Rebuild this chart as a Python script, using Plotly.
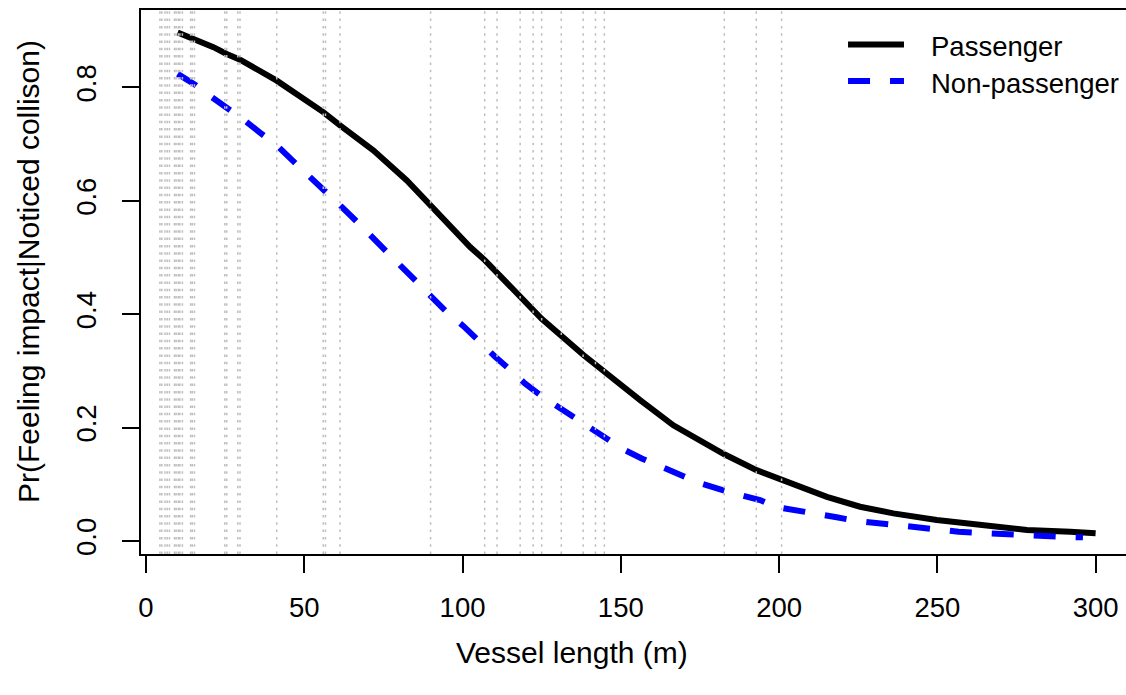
import plotly.graph_objects as go

# ---- data ----
passenger_x = [10, 15, 21.3, 25.5, 29.7, 41.3, 50.8, 56.0, 61.3, 71.8, 82.4, 89.9, 92.9,
               102.4, 107.1, 118.2, 125.0, 138.2, 144.8, 156.1, 166.6, 182.7, 192.9,
               200.8, 215.1, 225.6, 236.1, 249.8, 262.5, 278.3, 292.0, 300.0]
passenger_y = [0.897, 0.886, 0.871, 0.859, 0.849, 0.812, 0.777, 0.7565, 0.733, 0.689,
               0.636, 0.592, 0.5775, 0.5186, 0.495, 0.4305, 0.392, 0.328, 0.298, 0.2485,
               0.204, 0.153, 0.125, 0.1075, 0.078, 0.0605, 0.0488, 0.037, 0.028, 0.0194,
               0.0164, 0.0136]

nonpass_x = [10, 15.5, 20.5, 26.3, 30.7, 36.2, 41.3, 46.0, 50.8, 56.0, 61.3, 66.4, 71.1,
             76.0, 80.3, 85.0, 89.7, 95.5, 100.3, 105.5, 110.3, 115.2, 119.7, 125.0,
             130.0, 135.2, 140.3, 145.6, 150.8, 156.6, 162.4, 169.3, 175.0, 184.5,
             194.0, 198.7, 205.6, 211.4, 218.2, 224.0, 230.3, 236.6, 243.5, 249.8,
             256.7, 263.0, 269.8, 276.1, 283.0, 288.8, 296.0]
nonpass_y = [0.824, 0.805, 0.784, 0.762, 0.7436, 0.7195, 0.698, 0.6726, 0.648, 0.6226,
             0.592, 0.5644, 0.539, 0.5115, 0.4863, 0.46, 0.4335, 0.401, 0.379, 0.350,
             0.325, 0.301, 0.278, 0.2555, 0.2367, 0.218, 0.1986, 0.181, 0.1616, 0.1457,
             0.131, 0.1145, 0.102, 0.086, 0.0722, 0.0605, 0.0546, 0.0488, 0.0418,
             0.0358, 0.0323, 0.0264, 0.0224, 0.0194, 0.0164, 0.0146, 0.0123, 0.0106,
             0.0093, 0.0076, 0.0065]

observed_lengths = [4.4, 5.0, 6.0, 6.7, 7.4, 9.0, 9.5, 10.2, 10.7, 11.5, 14.1, 14.6, 15.3,
                    24.9, 25.5, 29.0, 29.7, 41.3, 56.0, 56.7, 61.3, 89.9, 107.0, 110.9,
                    118.2, 122.3, 125.0, 131.2, 138.1, 142.0, 144.8, 182.7, 192.8, 200.8]

x_ticks = [0, 50, 100, 150, 200, 250, 300]
y_ticks = [0.0, 0.2, 0.4, 0.6, 0.8]
y_tick_text = ["0.0", "0.2", "0.4", "0.6", "0.8"]

series_names = ["Passenger", "Non-passenger"]
x_title = "Vessel length (m)"
y_title = "Pr(Feeling impact|Noticed collison)"

FONT = "Liberation Sans, Arial, Helvetica, sans-serif"
FS = 27.5
FS_TITLE = 30

fig = go.Figure()
fig.add_trace(go.Scatter(x=passenger_x, y=passenger_y, mode="lines", name=series_names[0],
                         line=dict(color="black", width=6), showlegend=False))
fig.add_trace(go.Scatter(x=nonpass_x, y=nonpass_y, mode="lines", name=series_names[1],
                         line=dict(color="#0000FF", width=6, dash="22px,20px"),
                         showlegend=False))

for v in observed_lengths:
    fig.add_vline(x=v, line=dict(color="#BEBEBE", width=1.5, dash="2.5px,4.8px"),
                  layer="above")

# manual legend (R style, no box)
fig.add_shape(type="line", xref="paper", yref="paper", x0=0.7178, x1=0.7746,
              y0=0.9366, y1=0.9366, line=dict(color="black", width=6))
fig.add_shape(type="line", xref="paper", yref="paper", x0=0.7178, x1=0.7746,
              y0=0.8695, y1=0.8695, line=dict(color="#0000FF", width=6, dash="22px,20px"))
fig.add_annotation(xref="paper", yref="paper", x=0.80, y=0.932, text=series_names[0],
                   showarrow=False, xanchor="left", yanchor="middle",
                   font=dict(family=FONT, size=FS, color="black"))
fig.add_annotation(xref="paper", yref="paper", x=0.80, y=0.864, text=series_names[1],
                   showarrow=False, xanchor="left", yanchor="middle",
                   font=dict(family=FONT, size=FS, color="black"))

# axis titles
fig.add_annotation(xref="paper", yref="paper", x=(572 - 141) / 985, y=(554 - 652) / 544,
                   text=x_title, showarrow=False, xanchor="center", yanchor="middle",
                   font=dict(family=FONT, size=FS_TITLE, color="black"))
fig.add_annotation(xref="paper", yref="paper", x=(28 - 141) / 985, y=(554 - 272) / 544,
                   text=y_title, showarrow=False, xanchor="center", yanchor="middle",
                   textangle=-90, font=dict(family=FONT, size=FS_TITLE, color="black"))

fig.update_layout(
    width=1126, height=695,
    margin=dict(l=141, r=0, t=10, b=141),
    paper_bgcolor="white", plot_bgcolor="white",
    font=dict(family=FONT, size=FS, color="black"),
    xaxis=dict(range=[-1.58, 309.6], tickvals=x_ticks, ticks="outside", ticklen=17,
               tickwidth=2, tickcolor="black", showline=True, linewidth=2,
               linecolor="black", mirror=True, showgrid=False, zeroline=False,
               ticklabelstandoff=11, tickfont=dict(family=FONT, size=FS)),
    yaxis=dict(range=[-0.0229, 0.9366], tickvals=y_ticks, ticktext=y_tick_text,
               ticks="outside", ticklen=17, tickwidth=2, tickcolor="black",
               showline=True, linewidth=2, linecolor="black", showgrid=False,
               zeroline=False, tickangle=-90, ticklabelstandoff=15,
               tickfont=dict(family=FONT, size=FS)),
)

fig.write_html("out.html")
